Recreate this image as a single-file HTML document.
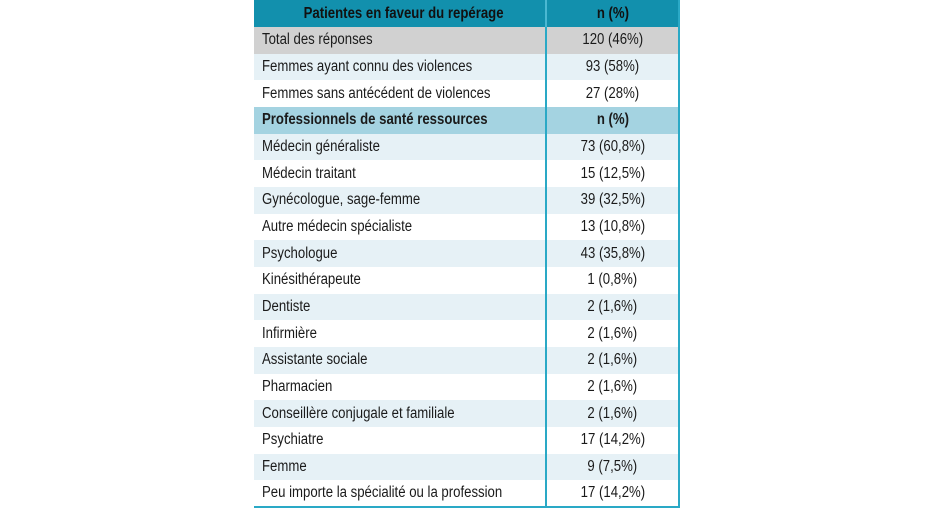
<!DOCTYPE html>
<html><head><meta charset="utf-8"><style>
html,body{margin:0;padding:0;background:#fff;width:934px;height:509px;overflow:hidden}
table{position:absolute;left:254px;top:0;width:426px;border-collapse:collapse;font-family:"Liberation Sans",sans-serif;font-size:15.5px;color:#1a1a1a;border-right:2px solid #2aa9c6;border-bottom:2px solid #2aa9c6}
td{height:26.67px;padding:0 0 0 8px;box-sizing:border-box;white-space:nowrap}
td span{display:inline-block;transform:scaleX(.85);transform-origin:left center}
td.v{text-align:center;border-left:2px solid #2aa9c6;width:133px;padding:0}
td.v span{transform-origin:center center}
tr.h td{background:#1290ad;font-weight:bold;text-align:center;height:27px;color:#111}
tr.h td span{transform-origin:center center}
tr.h td.v{border-left:2px solid #4bb8d2}
tr.t td{background:#d1d1d1}
tr.s td{background:#a4d3e1;font-weight:bold}
tr.a td{background:#e6f1f6}
tr.w td{background:#fff}
</style></head><body>
<table>
<tr class="h"><td><span>Patientes en faveur du repérage</span></td><td class="v"><span>n (%)</span></td></tr>
<tr class="t"><td><span>Total des réponses</span></td><td class="v"><span>120 (46%)</span></td></tr>
<tr class="a"><td><span>Femmes ayant connu des violences</span></td><td class="v"><span>93 (58%)</span></td></tr>
<tr class="w"><td><span>Femmes sans antécédent de violences</span></td><td class="v"><span>27 (28%)</span></td></tr>
<tr class="s"><td><span>Professionnels de santé ressources</span></td><td class="v"><span>n (%)</span></td></tr>
<tr class="a"><td><span>Médecin généraliste</span></td><td class="v"><span>73 (60,8%)</span></td></tr>
<tr class="w"><td><span>Médecin traitant</span></td><td class="v"><span>15 (12,5%)</span></td></tr>
<tr class="a"><td><span>Gynécologue, sage-femme</span></td><td class="v"><span>39 (32,5%)</span></td></tr>
<tr class="w"><td><span>Autre médecin spécialiste</span></td><td class="v"><span>13 (10,8%)</span></td></tr>
<tr class="a"><td><span>Psychologue</span></td><td class="v"><span>43 (35,8%)</span></td></tr>
<tr class="w"><td><span>Kinésithérapeute</span></td><td class="v"><span>1 (0,8%)</span></td></tr>
<tr class="a"><td><span>Dentiste</span></td><td class="v"><span>2 (1,6%)</span></td></tr>
<tr class="w"><td><span>Infirmière</span></td><td class="v"><span>2 (1,6%)</span></td></tr>
<tr class="a"><td><span>Assistante sociale</span></td><td class="v"><span>2 (1,6%)</span></td></tr>
<tr class="w"><td><span>Pharmacien</span></td><td class="v"><span>2 (1,6%)</span></td></tr>
<tr class="a"><td><span>Conseillère conjugale et familiale</span></td><td class="v"><span>2 (1,6%)</span></td></tr>
<tr class="w"><td><span>Psychiatre</span></td><td class="v"><span>17 (14,2%)</span></td></tr>
<tr class="a"><td><span>Femme</span></td><td class="v"><span>9 (7,5%)</span></td></tr>
<tr class="w"><td><span>Peu importe la spécialité ou la profession</span></td><td class="v"><span>17 (14,2%)</span></td></tr>
</table>
</body></html>
